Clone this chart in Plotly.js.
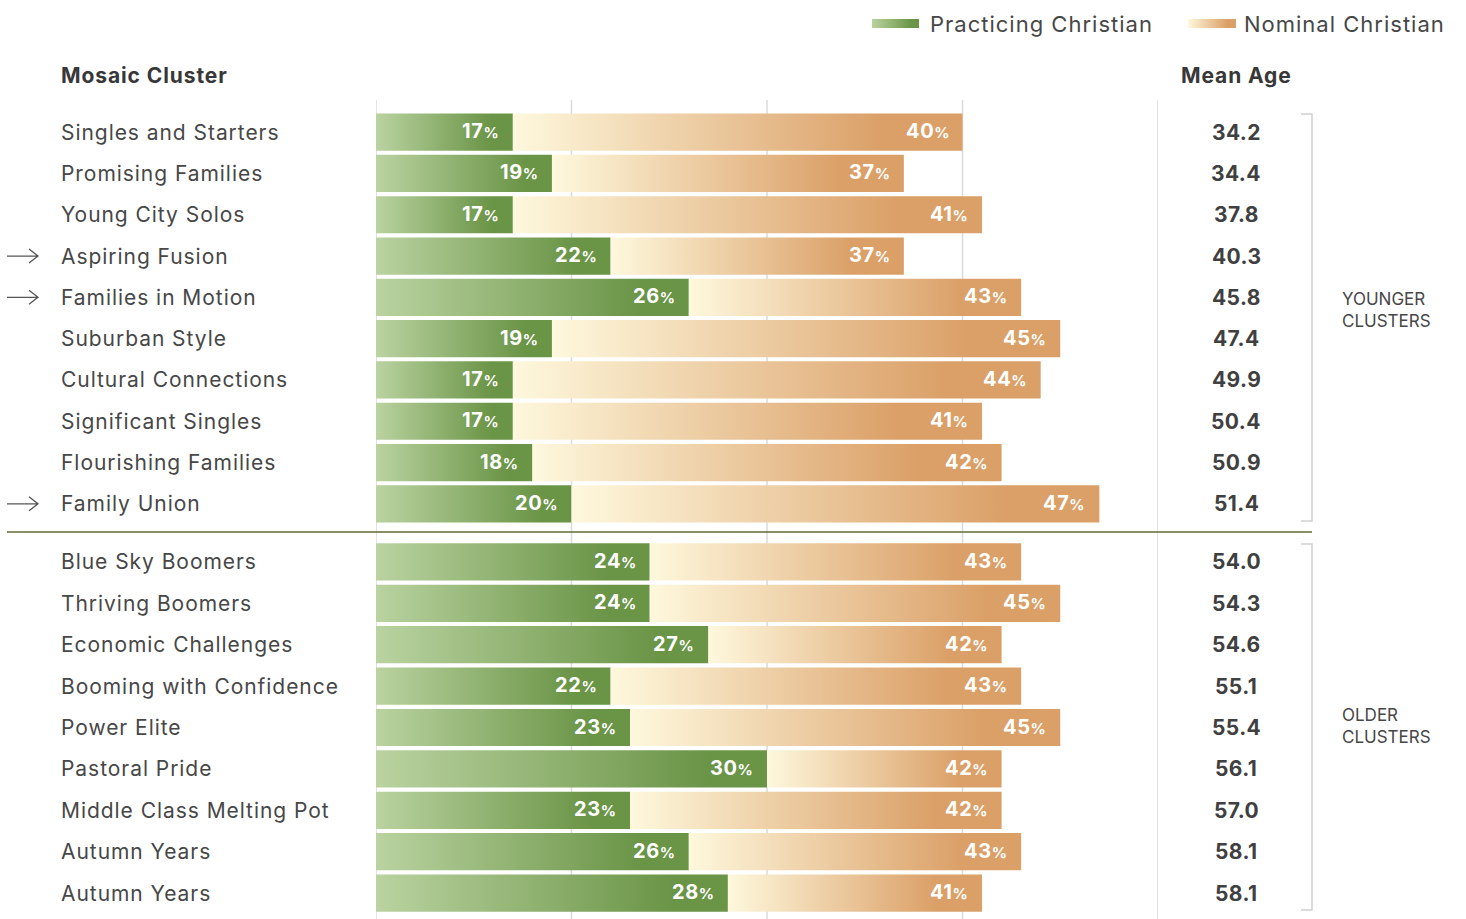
<!DOCTYPE html>
<html>
<head>
<meta charset="utf-8">
<script src="https://cdn.plot.ly/plotly-3.0.1.min.js"></script>
<style>
html,body{margin:0;padding:0;background:#fff;}
#chart{width:1466px;height:919px;}
</style>
</head>
<body>
<div id="chart"></div>
<script>
// ---------------- DATA ----------------
const seriesNames = ["Practicing Christian", "Nominal Christian"];

const youngerClusters = ["Singles and Starters","Promising Families","Young City Solos","Aspiring Fusion","Families in Motion","Suburban Style","Cultural Connections","Significant Singles","Flourishing Families","Family Union"];
const youngerPracticing = [17,19,17,22,26,19,17,17,18,20];
const youngerNominal = [40,37,41,37,43,45,44,41,42,47];
const youngerMeanAge = [34.2,34.4,37.8,40.3,45.8,47.4,49.9,50.4,50.9,51.4];
const youngerHighlighted = [false,false,false,true,true,false,false,false,false,true];

const olderClusters = ["Blue Sky Boomers","Thriving Boomers","Economic Challenges","Booming with Confidence","Power Elite","Pastoral Pride","Middle Class Melting Pot","Autumn Years","Autumn Years"];
const olderPracticing = [24,24,27,22,23,30,23,26,28];
const olderNominal = [43,45,42,43,45,42,42,43,41];
const olderMeanAge = [54.0,54.3,54.6,55.1,55.4,56.1,57.0,58.1,58.1];
const olderHighlighted = [false,false,false,false,false,false,false,false,false];

const groupLabels = ["YOUNGER<br>CLUSTERS", "OLDER<br>CLUSTERS"];
const gridTicks = [10,20,30,40,50];
const xRange = [10,50];

// ---------------- LAYOUT HELPERS ----------------
const W = 1466, H = 919;
const px = x => x / W;
const py = y => 1 - y / H;
const FONT = "Inter, 'Open Sans', sans-serif";
const TXT = "#474747";
const sp = (t, s) => `<span style="letter-spacing:${s}px">${t}</span>`;

const groups = [
  {yref:'y', names:youngerClusters, prac:youngerPracticing, nom:youngerNominal, age:youngerMeanAge, hl:youngerHighlighted},
  {yref:'y2', names:olderClusters, prac:olderPracticing, nom:olderNominal, age:olderMeanAge, hl:olderHighlighted}
];

const traces = [];
const annotations = [];
const shapes = [];

groups.forEach((g) => {
  const idx = g.names.map((_, i) => i);
  traces.push({
    type:'bar', orientation:'h', name:seriesNames[0], meta:'green',
    y: idx, base: g.prac.map(() => xRange[0]), x: g.prac.map(v => v - xRange[0]),
    xaxis:'x', yaxis:g.yref, marker:{color:'#6f9a4c', line:{width:0}},
    hoverinfo:'skip', showlegend:false
  });
  traces.push({
    type:'bar', orientation:'h', name:seriesNames[1], meta:'nominal',
    y: idx, base: g.prac, x: g.nom.map((v, i) => v - g.prac[i]),
    xaxis:'x', yaxis:g.yref, marker:{color:'#dba068', line:{width:0}},
    hoverinfo:'skip', showlegend:false
  });
  const pctLabel = v => `<b>${sp(v, 0.6)}<span style="font-size:15px">%</span></b>`;
  idx.forEach(i => {
    // cluster name
    annotations.push({xref:'paper', yref:g.yref, x:px(61), y:i, xanchor:'left', yanchor:'middle', xshift:-2,
      text:sp(g.names[i], 0.95), showarrow:false, font:{family:FONT, size:21, color:TXT}});
    // mean age
    annotations.push({xref:'paper', yref:g.yref, x:px(1236), y:i, xanchor:'center', yanchor:'middle',
      text:`<b>${sp(g.age[i].toFixed(1), 0.4)}</b>`, showarrow:false, font:{family:FONT, size:21, color:'#404040'}});
    // bar value labels
    annotations.push({xref:'x', yref:g.yref, x:g.prac[i], y:i, xanchor:'right', yanchor:'middle', xshift:-12, yshift:1,
      text:pctLabel(g.prac[i]), showarrow:false, font:{family:FONT, size:20, color:'#ffffff'}});
    annotations.push({xref:'x', yref:g.yref, x:g.nom[i], y:i, xanchor:'right', yanchor:'middle', xshift:-12, yshift:1,
      text:pctLabel(g.nom[i]), showarrow:false, font:{family:FONT, size:20, color:'#ffffff'}});
    // arrows
    if (g.hl[i]) {
      shapes.push({type:'path', xref:'paper', xsizemode:'pixel', xanchor:0, yref:g.yref, ysizemode:'pixel', yanchor:i,
        path:'M 7,0 L 38,0 M 29,7 L 38,0 L 29,-7', line:{color:'#555', width:1.3}});
    }
  });
});

// gridlines
gridTicks.forEach(v => shapes.push({type:'line', xref:'x', x0:v, x1:v, yref:'paper', y0:0, y1:py(100),
  line:{color:'#dadada', width:1.5}, layer:'below'}));
// separator
shapes.push({type:'line', xref:'paper', yref:'paper', x0:px(7), x1:px(1312), y0:py(532), y1:py(532),
  line:{color:'#5e6d36', width:1.5}});
// brackets
[[114,521],[544,910]].forEach(([a,b]) => shapes.push({type:'path', xref:'paper', yref:'paper',
  path:`M ${px(1301)},${py(a)} L ${px(1312)},${py(a)} L ${px(1312)},${py(b)} L ${px(1301)},${py(b)}`,
  line:{color:'#cfcfcf', width:1.5}}));
// legend swatches
const swatchIdx = [];
swatchIdx.push(shapes.length);
shapes.push({type:'rect', xref:'paper', yref:'paper', x0:px(872), x1:px(919), y0:py(28), y1:py(19),
  fillcolor:'#6f9a4c', line:{width:0}});
swatchIdx.push(shapes.length);
shapes.push({type:'rect', xref:'paper', yref:'paper', x0:px(1188), x1:px(1236), y0:py(28), y1:py(19),
  fillcolor:'#dba068', line:{width:0}});

// legend texts
annotations.push({xref:'paper', yref:'paper', x:px(930), y:py(24), xanchor:'left', yanchor:'middle', xshift:-2,
  text:sp(seriesNames[0], 1.0), showarrow:false, font:{family:FONT, size:22, color:TXT}});
annotations.push({xref:'paper', yref:'paper', x:px(1244), y:py(24), xanchor:'left', yanchor:'middle', xshift:-2,
  text:sp(seriesNames[1], 1.0), showarrow:false, font:{family:FONT, size:22, color:TXT}});
// headers
annotations.push({xref:'paper', yref:'paper', x:px(61), y:py(75), xanchor:'left', yanchor:'middle', xshift:-2,
  text:`<b>${sp('Mosaic Cluster', 0.9)}</b>`, showarrow:false, font:{family:FONT, size:21, color:'#383838'}});
annotations.push({xref:'paper', yref:'paper', x:px(1236), y:py(75), xanchor:'center', yanchor:'middle',
  text:`<b>${sp('Mean Age', 0.9)}</b>`, showarrow:false, font:{family:FONT, size:21, color:'#383838'}});
// group labels
annotations.push({xref:'paper', yref:'paper', x:px(1342), y:py(310), xanchor:'left', yanchor:'middle', align:'left', xshift:-2,
  text:groupLabels[0], showarrow:false, font:{family:FONT, size:17, color:TXT}});
annotations.push({xref:'paper', yref:'paper', x:px(1342), y:py(726), xanchor:'left', yanchor:'middle', align:'left', xshift:-2,
  text:groupLabels[1], showarrow:false, font:{family:FONT, size:17, color:TXT}});

const axisOff = {showgrid:false, zeroline:false, showticklabels:false, ticks:'', showline:false, fixedrange:true};
const layout = {
  width:W, height:H, margin:{l:0,r:0,t:0,b:0}, paper_bgcolor:'#fff', plot_bgcolor:'rgba(0,0,0,0)',
  barmode:'overlay', bargap:0.1, showlegend:false,
  xaxis:Object.assign({domain:[px(376), px(1158)], range:xRange}, axisOff),
  yaxis:Object.assign({domain:[py(524.5), py(111.5)], range:[youngerClusters.length-0.5, -0.5]}, axisOff),
  yaxis2:Object.assign({domain:[py(913.7), py(541.3)], range:[olderClusters.length-0.5, -0.5], anchor:'x'}, axisOff),
  shapes:shapes, annotations:annotations
};

function applyGradients(gd) {
  const svg = gd.querySelector('svg.main-svg');
  if (!svg) return;
  const NS = 'http://www.w3.org/2000/svg';
  let defs = svg.querySelector('defs');
  if (!defs) { defs = document.createElementNS(NS, 'defs'); svg.insertBefore(defs, svg.firstChild); }
  const mk = (id, stops) => {
    if (document.getElementById(id)) return;
    const lg = document.createElementNS(NS, 'linearGradient');
    lg.setAttribute('id', id); lg.setAttribute('x1','0'); lg.setAttribute('x2','1'); lg.setAttribute('y1','0'); lg.setAttribute('y2','0');
    stops.forEach(([o,c]) => { const s = document.createElementNS(NS,'stop'); s.setAttribute('offset', o); s.setAttribute('stop-color', c); lg.appendChild(s); });
    defs.appendChild(lg);
  };
  mk('gradGreen', [['0','#bad3a1'],['0.85','#6a9446'],['1','#6a9446']]);
  mk('gradNom', [['0','#fef8dd'],['0.82','#dba068'],['1','#dba068']]);
  gd.querySelectorAll('.barlayer .trace').forEach(tr => {
    const d = tr.__data__;
    const meta = d && d[0] && d[0].trace ? d[0].trace.meta : null;
    const g = meta === 'green' ? 'url(#gradGreen)' : (meta === 'nominal' ? 'url(#gradNom)' : null);
    if (!g) return;
    tr.querySelectorAll('.point path').forEach(p => { p.style.fill = g; });
  });
  swatchIdx.forEach((k, j) => {
    gd.querySelectorAll(`.shapelayer path[data-index="${k}"]`).forEach(p => {
      p.style.fill = j === 0 ? 'url(#gradGreen)' : 'url(#gradNom)';
      p.style.fillOpacity = 1;
    });
  });
}

const gd = document.getElementById('chart');
Plotly.newPlot(gd, traces, layout, {displayModeBar:false, staticPlot:true}).then(() => {
  applyGradients(gd);
  gd.on('plotly_afterplot', () => applyGradients(gd));
});
</script>
</body>
</html>
